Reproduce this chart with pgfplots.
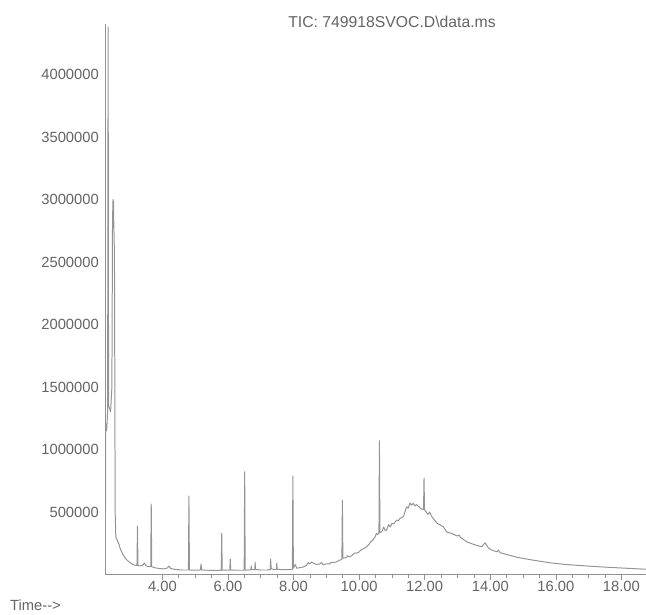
\documentclass[border=0pt]{standalone}
\usepackage{fontspec}
\setmainfont{Liberation Sans}
\usepackage{pgfplots}
\usepackage{pgfplotstable}
\pgfplotsset{compat=1.18}
\definecolor{trace}{HTML}{949494}
\definecolor{axgray}{HTML}{919191}
\definecolor{txtgray}{HTML}{646464}
\newcommand\lbl{\fontsize{14.8}{16}\selectfont}
\pgfplotstableread{
t v
2.262 20000
2.270 1210000
2.300 1150000
2.330 1300000
2.345 4380000
2.360 1350000
2.420 1300000
2.460 1500000
2.480 2850000
2.495 3000000
2.510 2980000
2.520 2760000
2.530 2700000
2.540 2400000
2.550 1500000
2.560 500000
2.580 300000
2.630 270000
2.680 240000
2.710 210000
2.760 180000
2.800 158000
2.870 130000
2.950 108000
3.070 85000
3.150 75000
3.225 72000
3.240 388000
3.255 72000
3.300 68000
3.400 75000
3.450 92000
3.500 70000
3.580 62000
3.645 65000
3.660 564000
3.675 62000
3.750 55000
3.900 48000
4.050 45000
4.150 52000
4.200 68000
4.250 48000
4.400 40000
4.600 36000
4.795 36000
4.810 628000
4.825 36000
5.000 35000
5.160 36000
5.180 84000
5.200 36000
5.500 33000
5.795 33000
5.810 330000
5.825 34000
6.055 35000
6.070 124000
6.085 36000
6.300 34000
6.495 34000
6.510 822000
6.525 35000
6.700 38000
6.710 68000
6.720 38000
6.820 40000
6.830 100000
6.840 40000
7.000 36000
7.200 36000
7.290 40000
7.300 124000
7.320 45000
7.400 40000
7.480 42000
7.490 92000
7.500 42000
7.700 38000
7.965 40000
7.980 788000
7.995 50000
8.050 80000
8.100 50000
8.300 60000
8.400 75000
8.450 95000
8.500 85000
8.550 100000
8.600 92000
8.700 80000
8.800 84000
8.850 95000
8.900 78000
9.000 85000
9.100 84000
9.150 98000
9.200 95000
9.300 100000
9.420 116000
9.475 120000
9.490 596000
9.505 130000
9.600 135000
9.650 150000
9.700 140000
9.800 155000
9.850 170000
9.930 172000
10.000 180000
10.050 195000
10.100 200000
10.230 222000
10.300 240000
10.350 262000
10.400 270000
10.490 302000
10.530 330000
10.560 320000
10.605 330000
10.620 1070000
10.635 335000
10.700 345000
10.750 380000
10.800 350000
10.840 356000
10.900 400000
10.950 380000
11.000 410000
11.050 405000
11.100 420000
11.150 436000
11.200 430000
11.250 450000
11.350 462000
11.450 542000
11.500 530000
11.550 572000
11.600 555000
11.650 570000
11.700 548000
11.750 560000
11.860 532000
11.900 525000
11.965 520000
11.980 772000
11.995 516000
12.050 500000
12.100 480000
12.150 500000
12.220 462000
12.300 435000
12.370 412000
12.450 400000
12.570 382000
12.670 340000
12.800 330000
12.900 320000
12.980 308000
13.050 315000
13.100 295000
13.280 262000
13.500 240000
13.740 222000
13.840 254000
13.950 210000
14.100 190000
14.200 182000
14.250 195000
14.300 175000
14.500 160000
14.810 138000
15.300 115000
15.820 94000
16.300 80000
16.840 70000
17.300 62000
17.860 54000
18.300 48000
18.750 42000
}\tic
\begin{document}
\begin{tikzpicture}
\useasboundingbox (-105bp,-40.5bp) rectangle (541bp,574.5bp);
\begin{axis}[
  at={(0,0)}, anchor=south west,
  scale only axis, width=541bp, height=550bp,
  xmin=2.25, xmax=18.75, ymin=0, ymax=4400000,
  axis lines=left,
  axis line style={draw=axgray, line width=0.9pt, -},
  xtick={4,6,8,10,12,14,16,18},
  xticklabels={4.00,6.00,8.00,10.00,12.00,14.00,16.00,18.00},
  minor x tick num=3,
  ytick={500000,1000000,1500000,2000000,2500000,3000000,3500000,4000000},
  yticklabels={500000,1000000,1500000,2000000,2500000,3000000,3500000,4000000},
  scaled y ticks=false,
  tick align=outside,
  x tick style={axgray, line width=0.6pt},
  y tick style={draw=none},
  major tick length=5bp,
  minor tick length=3bp,
  ticklabel style={font=\lbl, text=txtgray},
  yticklabel style={inner sep=1bp},
  xticklabel style={inner sep=2bp},
]
\addplot[trace, line width=1pt, line join=round] table[x=t, y=v] {\tic};
\end{axis}
\node[font=\fontsize{15.8}{17}\selectfont, text=txtgray] at (287bp,552.5bp) {TIC: 749918SVOC.D\textbackslash data.ms};
\node[font=\fontsize{14.8}{16}\selectfont, text=txtgray, anchor=west, inner sep=0pt] at (-95bp,-30.5bp) {Time-{}->};
\end{tikzpicture}
\end{document}
